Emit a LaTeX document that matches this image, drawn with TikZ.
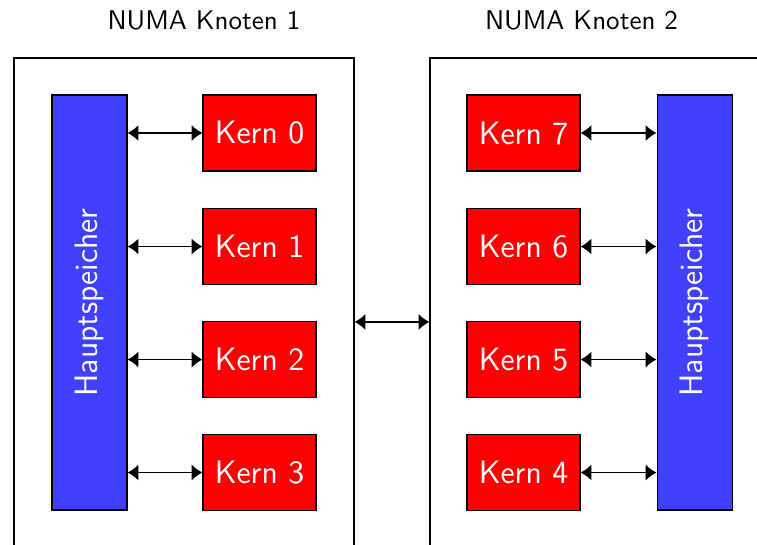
\documentclass[tikz,border=0pt]{standalone}
\usetikzlibrary{calc,arrows.meta}

\begin{document}
\begin{tikzpicture}[auto, font=\sffamily]
    \def\W{1.469} \def\H{0.988} \def\B{0.975} \def\L{5.395}
    \tikzset{
        kern/.style={draw, fill=red, text=white, font=\sffamily\large, minimum width=\W cm, minimum height=\H cm, inner sep=0},
        speicher/.style={draw, fill=blue!75, text=white, font=\sffamily\large, rotate=90, minimum width=\L cm, minimum height=\B cm, inner sep=0},
        knoten/.style={draw, minimum width=4.42cm, minimum height=6.864cm, inner sep=0},
        link/.style={{Latex[length=4pt,width=6pt]}-{Latex[length=4pt,width=6pt]}, semithick}
    }
    \useasboundingbox (0, 0) rectangle (9.841, -7.085);
    \clip (0, 0) rectangle (9.841, -7.085);

    \node[knoten] (n1) at (2.392, -4.186) {};
    \node[knoten] (n2) at (7.8, -4.186) {};
    \node (t1) at (2.652, -0.26) {NUMA Knoten 1};
    \node (t2) at (7.56, -0.26) {NUMA Knoten 2};

    \node[speicher] (mem1) at (1.164, -3.933) {Hauptspeicher};
    \node[speicher] (mem2) at (9.029, -3.933) {Hauptspeicher};

    \node[kern] (k0) at (3.374, -1.729) {Kern 0};
    \node[kern] (k1) at (3.374, -3.205) {Kern 1};
    \node[kern] (k2) at (3.374, -4.674) {Kern 2};
    \node[kern] (k3) at (3.374, -6.143) {Kern 3};
    \node[kern] (k7) at (6.806, -1.729) {Kern 7};
    \node[kern] (k6) at (6.806, -3.205) {Kern 6};
    \node[kern] (k5) at (6.806, -4.674) {Kern 5};
    \node[kern] (k4) at (6.806, -6.143) {Kern 4};

    % Kerne <-> Hauptspeicher
    \draw[link] (k0.west -| mem1.south) -- (k0.west);
    \draw[link] (k1.west -| mem1.south) -- (k1.west);
    \draw[link] (k2.west -| mem1.south) -- (k2.west);
    \draw[link] (k3.west -| mem1.south) -- (k3.west);
    \draw[link] (k7.east) -- (k7.east -| mem2.north);
    \draw[link] (k6.east) -- (k6.east -| mem2.north);
    \draw[link] (k5.east) -- (k5.east -| mem2.north);
    \draw[link] (k4.east) -- (k4.east -| mem2.north);

    % Verbindung der Knoten
    \draw[link] (n1.east) -- (n2.west);
\end{tikzpicture}
\end{document}
